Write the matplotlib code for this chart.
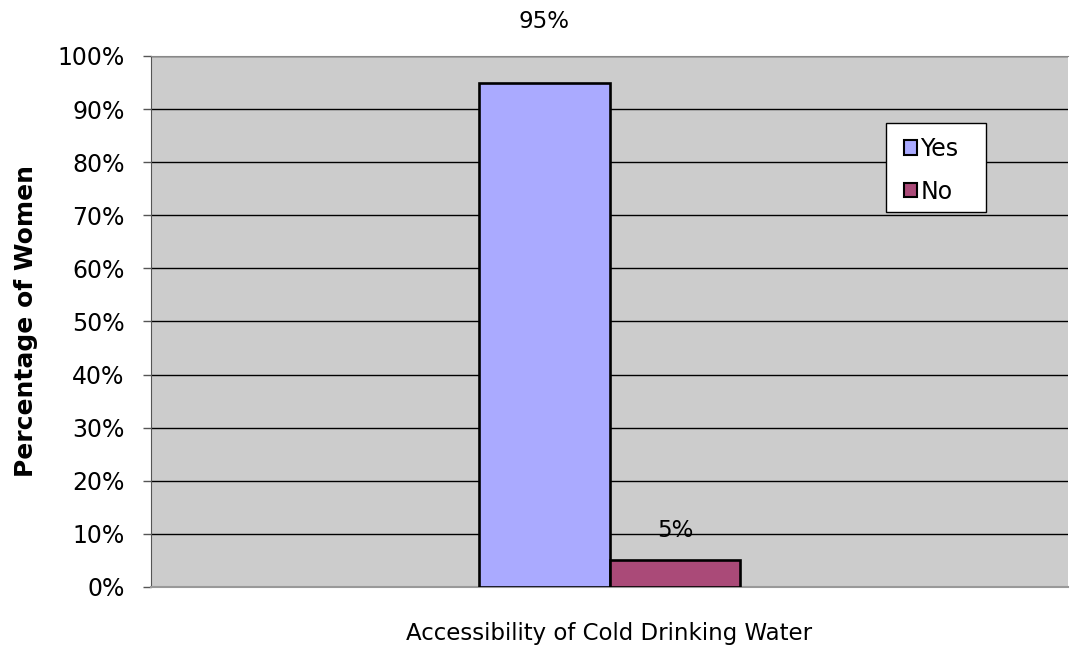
import matplotlib.pyplot as plt
from matplotlib.patches import Patch, Rectangle

category = 'Accessibility of Cold Drinking Water'
series = ['Yes', 'No']
values = [95, 5]
colors = ['#AAAAFF', '#AA4A78']
yticks = [0, 10, 20, 30, 40, 50, 60, 70, 80, 90, 100]

plt.rcParams['font.family'] = ['DejaVu Sans']

fig = plt.figure(figsize=(10.7, 6.46), dpi=100)
ax = fig.add_axes([151/1070, 1 - 587/646, 917/1070, 531/646])
ax.set_facecolor('#CCCCCC')

width = 0.2857
offsets = [-width/2, width/2]
for off, v, c in zip(offsets, values, colors):
    ax.bar(off, v, width=width, color=c, edgecolor='black', linewidth=1.9, zorder=3)
    # label for tall bar sits above the plot, short one a bit over the bar
    ypos = 106.5 if v > 50 else v + 5.7
    ax.text(off, ypos, f'{v}%', ha='center', va='center', fontsize=16.5, clip_on=False)

ax.set_xlim(-1, 1)
ax.set_ylim(0, 100)
ax.set_yticks(yticks)
ax.set_yticklabels([f'{t}%' for t in yticks], fontsize=17)
ax.yaxis.grid(True, color='black', linewidth=1, zorder=0)
ax.set_axisbelow(True)
ax.set_xticks([])
ax.tick_params(axis='y', length=6, width=1, color='#555555', pad=13)

ax.spines['top'].set_color('#888888')
ax.spines['left'].set_color('#555555')
ax.spines['right'].set_visible(False)
ax.spines['bottom'].set_color('#999999')
ax.spines['bottom'].set_linewidth(1.5)

ax.set_ylabel('Percentage of Women', fontsize=18, fontweight='bold', labelpad=14)
ax.set_xlabel(category, fontsize=16.5, labelpad=25)

# legend box drawn by hand, it is wider than matplotlib would make it
lx, ly = (886-151)/917, (587-212)/531
ax.add_patch(Rectangle((lx, ly), 100/917, 89/531, transform=ax.transAxes,
                       facecolor='white', edgecolor='black', linewidth=1, zorder=5))
handles = [Patch(facecolor=c, edgecolor='black', linewidth=1.5) for c in colors]
leg = ax.legend(handles, series, loc='upper left', bbox_to_anchor=((892-151)/917, (587-125)/531),
                fontsize=17, frameon=False, handlelength=0.55, handleheight=0.55,
                handletextpad=0.15, borderpad=0.5, labelspacing=0.8, borderaxespad=0)
leg.set_zorder(6)

fig.savefig('out.png', dpi=100)
